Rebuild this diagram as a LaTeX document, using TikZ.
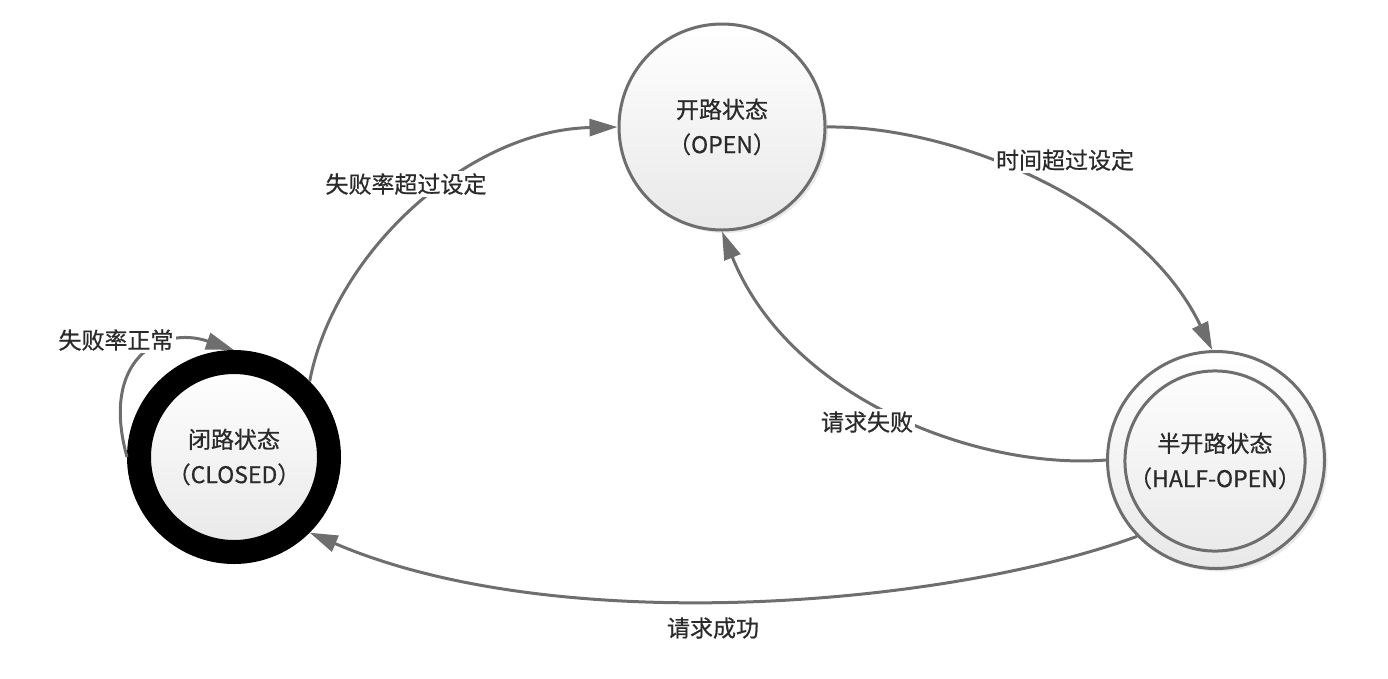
\documentclass[tikz,border=0pt]{standalone}
\usepackage{fontspec}
\setmainfont{Noto Sans CJK SC}[FakeBold=0.6]
\usetikzlibrary{arrows.meta,shadows}
\definecolor{linegray}{HTML}{6E6E6E}
\definecolor{txt}{HTML}{2A2A2A}
\begin{document}
\begin{tikzpicture}[x=1pt,y=-1pt,
  every node/.style={font=\fontsize{23}{35}\selectfont, text=txt},
  state/.style={circle, draw=linegray, line width=3pt, top color=white, bottom color=black!9,
    align=center, inner sep=0pt,
    drop shadow={shadow xshift=3pt,shadow yshift=-3pt,fill=black!12,opacity=0.7}},
  edge/.style={draw=linegray, line width=3pt, -{Triangle[length=28pt,width=17pt]}},
  lbl/.style={fill=white, inner sep=2pt}]
\useasboundingbox (0,0) rectangle (1388,678);

\node[state, minimum size=206pt] (open) at (722,127) {开路状态\\（OPEN）};
\node[state, draw=black, line width=24pt, minimum size=190pt] (closed) at (234,457) {闭路状态\\（CLOSED）};
\node[state, minimum size=217pt] (half) at (1216,460) {};
\node[circle, draw=linegray, line width=3pt, minimum size=176pt, align=center, inner sep=0pt] (halfin) at (1215,461) {半开路状态\\（HALF-OPEN）};

\draw[edge] (closed.45) .. controls (335,250) and (470,130) .. (open.180);
\draw[edge] (open.0) .. controls (950,125) and (1140,200) .. (half.92);
\draw[edge] (half.180) .. controls (980,470) and (790,400) .. (open.-90);
\draw[edge] (half.-136) .. controls (950,605) and (560,640) .. (closed.-45);
\draw[edge] (closed.180) .. controls (100,360) and (160,325) .. (closed.90);

\node[lbl] (l1) at (406,184) {失败率超过设定};
\node[lbl] (l2) at (1065,160) {时间超过设定};
\node[lbl] (l3) at (867,422) {请求失败};
\node[lbl] (l4) at (713,628) {请求成功};
\node[lbl] (l5) at (116,340) {失败率正常};
\end{tikzpicture}
\end{document}
